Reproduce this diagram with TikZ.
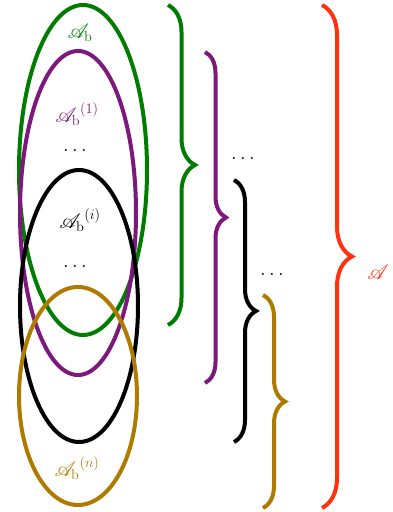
\documentclass[tikz,border=0pt]{standalone}
\usepackage{tikz}
\usetikzlibrary{decorations.pathreplacing}
\usepackage{amssymb}
\usepackage{amsmath}
\usepackage{mathrsfs}

\definecolor{setgreen}{RGB}{0,125,0}
\definecolor{setpurple}{RGB}{125,25,125}
\definecolor{setgold}{RGB}{175,122,0}
\definecolor{setred}{RGB}{255,50,15}

\begin{document}
\begin{tikzpicture}[
			x=1pt, y=1pt,
			every node/.style={inner sep=0pt, font=\huge},
			ring/.style={line width=4pt},
			bracket/.style={line width=4pt, decorate, decoration={brace, amplitude=#1}},
		]
		\useasboundingbox (0,0) rectangle (392,512);

		% Sets
		\draw[ring, setgreen] (83,342) ellipse [x radius=64, y radius=165];
		\draw[ring, setpurple] (78,299) ellipse [x radius=58, y radius=162];
		\draw[ring, black] (79,206) ellipse [x radius=59, y radius=136];
		\draw[ring, setgold] (78,116) ellipse [x radius=59, y radius=109];

		% Set labels
		\node[text=setgreen] (Ab) at (80,479) {$\mathscr{A}_{\mathrm{b}}$};
		\node[text=setpurple] (Ab1) at (77,398) {${\mathscr{A}_{\mathrm{b}}}^{(1)}$};
		\node (D1) at (75,362) {$\ldots$};
		\node (Abi) at (80,292) {${\mathscr{A}_{\mathrm{b}}}^{(i)}$};
		\node (D2) at (75,246) {$\ldots$};
		\node[text=setgold] (Abn) at (77,44) {${\mathscr{A}_{\mathrm{b}}}^{(n)}$};

		% Brace end points
		\coordinate (G1) at (168,507);
		\coordinate (G2) at (168,187);
		\coordinate (P1) at (205,460);
		\coordinate (P2) at (205,129);
		\coordinate (K1) at (234,332);
		\coordinate (K2) at (234,70);
		\coordinate (Y1) at (263,217);
		\coordinate (Y2) at (263,4);
		\coordinate (R1) at (322,507);
		\coordinate (R2) at (322,4);

		% Braces
		\draw[bracket=27, setgreen] (G1) -- (G2);
		\draw[bracket=21, setpurple] (P1) -- (P2);
		\draw[bracket=22, black] (K1) -- (K2);
		\draw[bracket=22, setgold] (Y1) -- (Y2);
		\draw[bracket=30, setred] (R1) -- (R2);

		% Brace labels
		\node (D3) at (243,354) {$\ldots$};
		\node (D4) at (272,238) {$\ldots$};
		\node[text=setred] (A) at (378,240) {$\mathscr{A}$};
	\end{tikzpicture}
\end{document}
